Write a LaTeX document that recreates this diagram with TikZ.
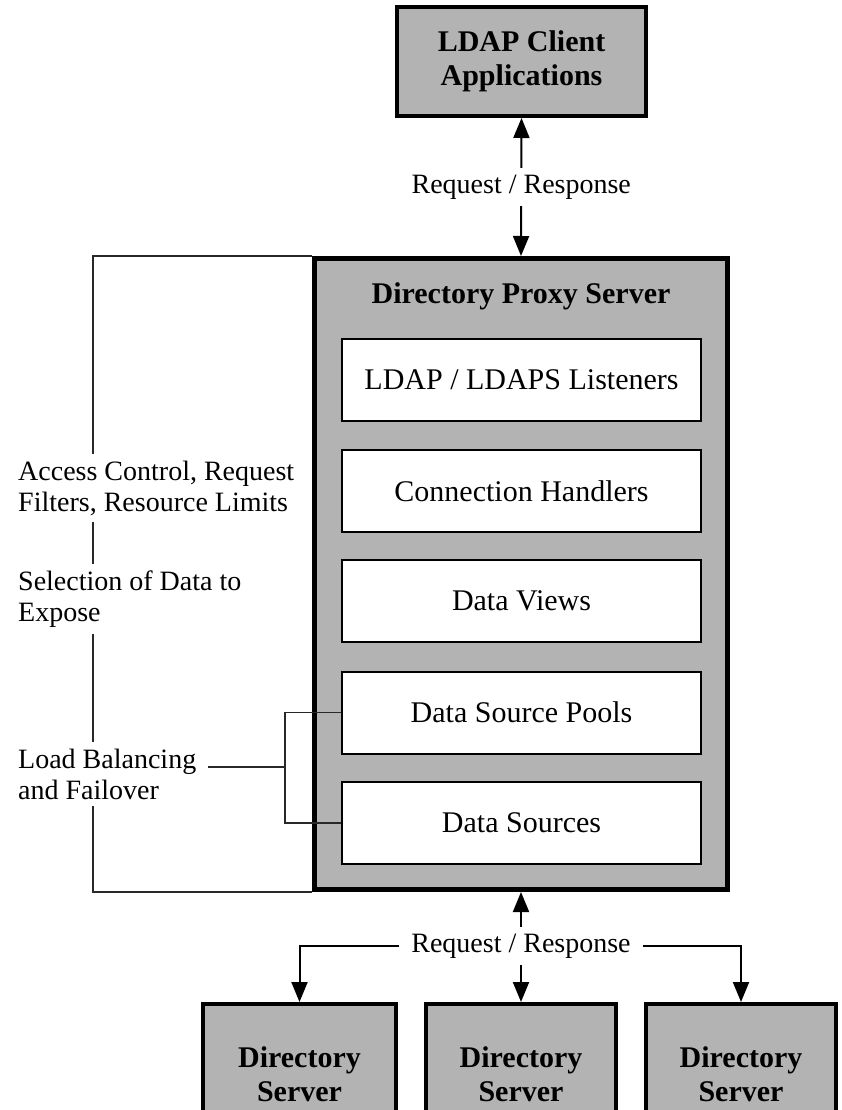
\documentclass[tikz,border=0pt]{standalone}
\usepackage{fontspec}
\setmainfont{Liberation Serif}
\usetikzlibrary{arrows.meta,calc}
\definecolor{boxgray}{RGB}{179,179,179}
\definecolor{linegray}{RGB}{40,40,40}

\begin{document}
\begin{tikzpicture}[x=1pt,y=-1pt,
  outerbox/.style={draw=black,line width=4pt,fill=boxgray,inner sep=0pt,
    font=\fontsize{30}{34}\selectfont\bfseries,align=center},
  layerbox/.style={draw=black,line width=2pt,fill=white,minimum width=359pt,
    minimum height=82pt,inner sep=0pt,font=\fontsize{30}{34}\selectfont},
  flow/.style={line width=2pt,-{Triangle[length=20pt,width=16pt]}},
  flowboth/.style={line width=2pt,{Triangle[length=20pt,width=16pt]}-{Triangle[length=20pt,width=16pt]}},
  note/.style={fill=white,inner xsep=6pt,inner ysep=7pt,align=left,
    font=\fontsize{28}{31}\selectfont},
  bracket/.style={draw=linegray,line width=1.2pt}
]
\clip (0,0) rectangle (842,1110);
\fill[white] (0,0) rectangle (842,1110);

% client tier
\node[outerbox,minimum width=249pt,minimum height=109pt] (client) at (521.5,61.5)
  {LDAP Client\\Applications};

% proxy server with its internal layers
\node[outerbox,line width=5pt,minimum width=413pt,minimum height=631pt] (proxy) at (521,574) {};
\node[font=\fontsize{30}{34}\selectfont\bfseries] (proxytitle) at (521,296) {Directory Proxy Server};
\node[layerbox] (listeners) at (521.5,380) {LDAP / LDAPS Listeners};
\node[layerbox] (handlers)  at (521.5,491) {Connection Handlers};
\node[layerbox] (views)     at (521.5,601) {Data Views};
\node[layerbox] (pools)     at (521.5,712.5) {Data Source Pools};
\node[layerbox] (sources)   at (521.5,823) {Data Sources};

% back-end servers
\node[outerbox,minimum width=193pt,minimum height=140pt] (ds1) at (299.5,1074) {Directory\\Server};
\node[outerbox,minimum width=190pt,minimum height=140pt] (ds2) at (521,1074) {Directory\\Server};
\node[outerbox,minimum width=190pt,minimum height=140pt] (ds3) at (741,1074) {Directory\\Server};

% client <-> proxy
\draw[flowboth] (client.south) -- (proxy.north);
\node[note] (rr1) at ($(client.south)!0.5!(proxy.north)$) {Request / Response};

% proxy <-> directory servers
\coordinate (hub) at (521,946);
\draw[flow] (hub) -- (proxy.south);
\draw[flow] (hub) -- (ds2.north);
\draw[flow] (hub) -| (ds1.north);
\draw[flow] (hub) -| (ds3.north);
\node[note,inner xsep=12pt] (rr2) at (hub) {Request / Response};

% bracket spanning the whole proxy
\coordinate (rail) at (93,0);
\draw[bracket] (proxy.north west) -- (proxy.north west -| rail)
  -- (proxy.south west -| rail) -- (proxy.south west);
\node[note,anchor=west] (acl) at (12,488) {Access Control, Request\\Filters, Resource Limits};
\node[note,anchor=west] (sel) at (12,599) {Selection of Data to\\Expose};
\node[note,anchor=west] (lb)  at (12,774) {Load Balancing\\and Failover};

% load balancing covers pools and sources
\coordinate (fork) at (285,767);
\draw[bracket] ($(lb.east |- fork)+(6,0)$) -- (fork);
\draw[bracket] (pools.west) -| (fork) |- (sources.west);
\end{tikzpicture}
\end{document}
